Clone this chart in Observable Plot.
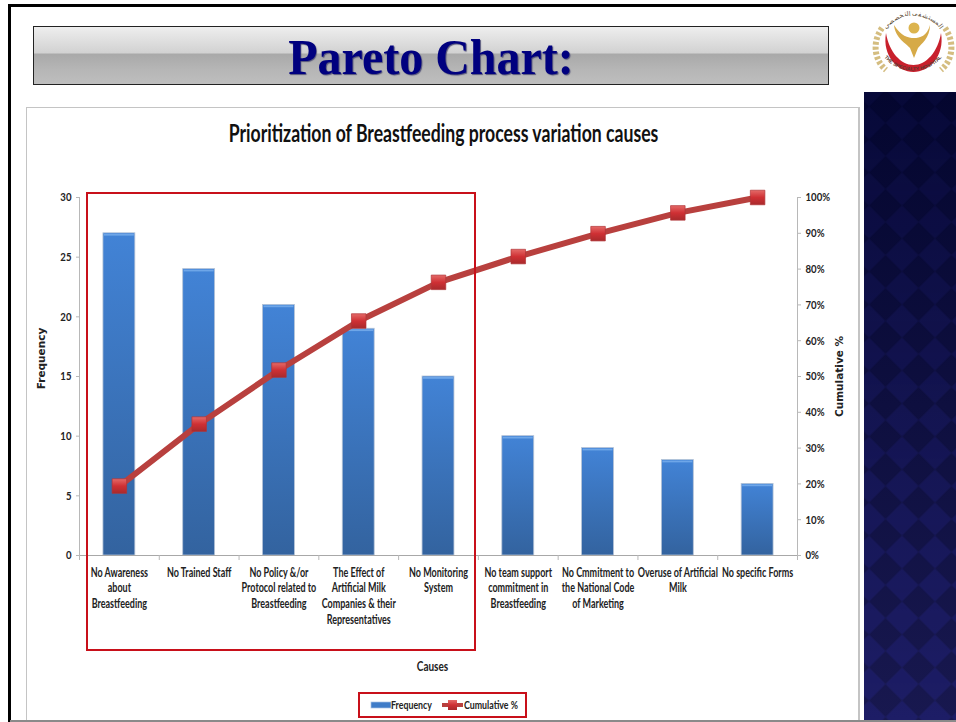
<!DOCTYPE html>
<html>
<head>
<meta charset="utf-8">
<script src="https://cdn.jsdelivr.net/npm/d3@7"></script>
<script src="https://cdn.jsdelivr.net/npm/@observablehq/plot@0.6"></script>
<style>
html,body{margin:0;padding:0;background:#fff;overflow:hidden}
#page{position:relative;width:956px;height:722px;overflow:hidden;background:#fff;font-family:Lato,sans-serif}
#page>*{position:absolute}
#topline{left:8px;top:4px;width:948px;height:2.5px;background:#000}
#leftline{left:8px;top:4px;width:2.5px;height:718px;background:#000}
#bottomline{left:10px;top:720px;width:946px;height:2px;background:#8a8a8a}
#banner{left:33px;top:26px;width:794px;height:57px;border:1px solid #222;background:linear-gradient(#eeeeee 0%,#d2d2d2 45%,#a9a9a9 48%,#b6b6b6 75%,#bebebe 100%)}
#banner div{text-align:center;font:bold 50px/60px "Liberation Serif",serif;color:#00007f;text-shadow:1px 1px 1px #55557a;transform:scaleX(.96)}
#frame{left:26px;top:107px;width:831px;height:620px;border:1px solid #c4c4c4;border-right-width:2px;background:#fff}
#panel{left:864px;top:92px;width:92px;height:628px}
#logo{left:868px;top:4px;width:88px;height:82px}
#plot{left:0;top:0}
#box{left:86px;top:192px;width:386px;height:455px;border:2px solid #c8101a}
#legend{left:358px;top:692px;width:165px;height:22px;border:2px solid #c8101a;background:#fff}
#legend svg{position:absolute;left:0;top:0}
</style>
</head>
<body>
<div id="page">
  <div id="frame"></div>
  <div id="topline"></div>
  <div id="leftline"></div>
  <div id="bottomline"></div>
  <div id="banner"><div>Pareto Chart:</div></div>
  <svg id="panel" viewBox="0 0 92 628">
    <defs>
      <linearGradient id="pg" x1="0" y1="0" x2="0" y2="1"><stop offset="0" stop-color="#04062f"/><stop offset="1" stop-color="#18184f"/></linearGradient>
      <linearGradient id="pm" x1="0" y1="0" x2="0" y2="1"><stop offset="0" stop-color="#fff" stop-opacity=".3"/><stop offset="1" stop-color="#fff"/></linearGradient>
      <pattern id="dia" width="33" height="33" patternUnits="userSpaceOnUse" patternTransform="translate(-11.5,14.5)">
        <path d="M16.5 0L33 16.5L16.5 33L0 16.5Z" fill="#2a2aa0" fill-opacity=".28"/>
      </pattern>
      <mask id="fade"><rect width="92" height="628" fill="url(#pm)"/></mask>
    </defs>
    <rect width="92" height="628" fill="url(#pg)"/>
    <rect width="92" height="628" fill="url(#dia)" mask="url(#fade)"/>
  </svg>
  <svg id="logo" viewBox="0 0 88 82">
    <defs>
      <path id="arcTop" d="M14 34A32 30 0 0 1 76 34"/>
      <path id="arcBot" d="M12 46A35 31 0 0 0 78 46"/>
    </defs>
    <path d="M14 24C4 38 6 56 18 66" fill="none" stroke="#d4bd80" stroke-width="6" stroke-dasharray="3 2"/>
    <path d="M77 24C87 38 85 56 73 66" fill="none" stroke="#d4bd80" stroke-width="6" stroke-dasharray="3 2"/>
    <path d="M18 29C14 52 30 68 45.5 68C61 68 77 52 73 29C70 48 58 61 45.5 61C33 61 21 48 18 29Z" fill="#c8202c"/>
    <circle cx="46" cy="24" r="5.5" fill="#dcb44e"/>
    <path d="M26 21C33 32 40 34 46 34C52 34 59 32 62 21C62 34 53 40 50 44L46 54L42 44C39 40 27 34 26 21Z" fill="#d6aa48"/>
    <text font-size="6.5" fill="#5a4a30" font-family="'Noto Sans',sans-serif" text-anchor="middle"><textPath href="#arcTop" startOffset="50%">المستشفى التخصصي</textPath></text>
    <text font-size="5" font-weight="bold" fill="#5a3a30" font-family="'Liberation Sans',sans-serif" text-anchor="middle"><textPath href="#arcBot" startOffset="50%">THE SPECIALTY HOSPITAL</textPath></text>
  </svg>
  <div id="plot"></div>
  <div id="box"></div>
  <div id="legend">
    <svg id="legendSvg" width="165" height="22" font-family="Lato,sans-serif" font-weight="bold" font-size="12" fill="#222">
      <rect x="11" y="8" width="20" height="6" fill="#3f7cc8" stroke="#a9c4e6" stroke-width=".7"/>
      <rect x="82" y="9" width="21" height="4" fill="#b8403e"/>
      <rect x="88" y="6" width="9" height="10" fill="url(#mark)"/>
      <text x="31" y="15" data-w="41">Frequency</text>
      <text x="104" y="15" data-w="54">Cumulative %</text>
    </svg>
  </div>
</div>
<script>
const causes = [
  "No Awareness\nabout\nBreastfeeding",
  "No Trained Staff",
  "No Policy &/or\nProtocol related to\nBreastfeeding",
  "The Effect of\nArtificial Milk\nCompanies & their\nRepresentatives",
  "No Monitoring\nSystem",
  "No team support\ncommitment in\nBreastfeeding",
  "No Cmmitment to\nthe National Code\nof Marketing",
  "Overuse of Artificial\nMilk",
  "No specific Forms"
];
const frequency = [27, 24, 21, 19, 15, 10, 9, 8, 6];
const cumulativePct = [19.4, 36.7, 51.8, 65.5, 76.3, 83.5, 89.9, 95.7, 100];
const freqTicks = [0, 5, 10, 15, 20, 25, 30];
const pctTicks = [0, 10, 20, 30, 40, 50, 60, 70, 80, 90, 100];
const pctToFreq = 30 / 100;
const chartTitle = "Prioritization of Breastfeeding process variation causes";

const rows = causes.map((c, i) => ({c, f: frequency[i], p: cumulativePct[i] * pctToFreq}));
const slot = 718 / 9;

const plot = Plot.plot({
  width: 956, height: 722,
  marginLeft: 79, marginRight: 159, marginTop: 197, marginBottom: 167,
  style: {background: "transparent", fontFamily: "Lato,sans-serif", fontSize: "12px", fontWeight: "bold", color: "#222", overflow: "visible"},
  x: {domain: causes, paddingInner: 0.6, paddingOuter: 0.3, round: false, label: null},
  y: {domain: [0, 30], label: null},
  marks: [
    Plot.barY(rows, {x: "c", y: "f", fill: "url(#barFill)", stroke: "#b5c3d6", strokeWidth: 0.8}),
    Plot.barY(rows, {x: "c", y1: d => d.f - 0.32, y2: "f", fill: "#6ea6e8", inset: 1}),
    Plot.ruleY([0], {stroke: "#a8a8a8"}),
    Plot.axisX({tickSize: 5, text: null, dx: -slot / 2, stroke: "#b8b8b8"}),
    Plot.axisX([causes[causes.length - 1]], {tickSize: 5, text: null, dx: slot / 2, stroke: "#b8b8b8"}),
    Plot.axisX({tickSize: 0, tickPadding: 10, lineHeight: 1.26, fontSize: 12.5, label: null, fill: "#222"}),
    Plot.axisY({ticks: freqTicks, tickSize: 3, tickPadding: 5, label: null, stroke: "#b8b8b8", fill: "#222", fontSize: 12}),
    Plot.ruleX([causes[0]], {dx: -slot / 2, y1: 0, y2: 30, stroke: "#b8b8b8"}),
    Plot.axisY({anchor: "right", ticks: pctTicks.map(t => t * pctToFreq), tickFormat: t => Math.round(t / pctToFreq) + "%", tickSize: 3, tickPadding: 5, label: null, stroke: "#b8b8b8", fill: "#222", fontSize: 12}),
    Plot.ruleX([causes[causes.length - 1]], {dx: slot / 2, y1: 0, y2: 30, stroke: "#b8b8b8"}),
    Plot.line(rows, {x: "c", y: "p", stroke: "#b8403e", strokeWidth: 6}),
    Plot.dot(rows, {x: "c", y: "p", symbol: "square", r: 8.2, fill: "url(#mark)", stroke: "#b03436", strokeWidth: 0.7}),
    Plot.text(["Frequency"], {frameAnchor: "left", textAnchor: "middle", dx: -38, dy: -18, rotate: -90, fontFamily: "'DejaVu Sans'", fontSize: 10.5, fill: "#222"}),
    Plot.text(["Cumulative %"], {frameAnchor: "right", textAnchor: "middle", dx: 42, rotate: -90, fontFamily: "'DejaVu Sans'", fontSize: 10.5, fill: "#222"}),
    Plot.text(["Causes"], {frameAnchor: "bottom", dx: -6, dy: 115, fontSize: 12.5, fill: "#222"}),
    Plot.text([chartTitle], {frameAnchor: "top", dx: 5, dy: -73, fontSize: 24, fill: "#111"})
  ]
});
plot.insertAdjacentHTML("afterbegin", `<defs>
  <linearGradient id="barFill" x1="0" y1="0" x2="0" y2="1"><stop offset="0" stop-color="#4283d6"/><stop offset="1" stop-color="#33639f"/></linearGradient>
  <linearGradient id="mark" x1="0" y1="0" x2="0" y2="1"><stop offset="0" stop-color="#e46a68"/><stop offset=".5" stop-color="#cf3034"/><stop offset="1" stop-color="#a82a2c"/></linearGradient>
</defs>`);
document.getElementById("plot").appendChild(plot);

// The reference uses a condensed face: squeeze real text horizontally around its anchor.
const narrow = (t, f) => {
  const x = +t.getAttribute("x") || 0;
  t.setAttribute("transform", `${t.getAttribute("transform") || ""} translate(${x},0) scale(${f},1) translate(${-x},0)`);
};
plot.querySelectorAll("text").forEach(t => {
  const s = t.textContent;
  if (s === "Frequency" || s === "Cumulative %") return;
  if (s === chartTitle) narrow(t, 430 / t.getComputedTextLength());
  else if (t.querySelector("tspan") || causes.includes(s)) narrow(t, 0.72);
  else narrow(t, 0.8);
});
document.querySelectorAll("#legendSvg text").forEach(t => narrow(t, +t.dataset.w / t.getComputedTextLength()));
</script>
</body>
</html>
